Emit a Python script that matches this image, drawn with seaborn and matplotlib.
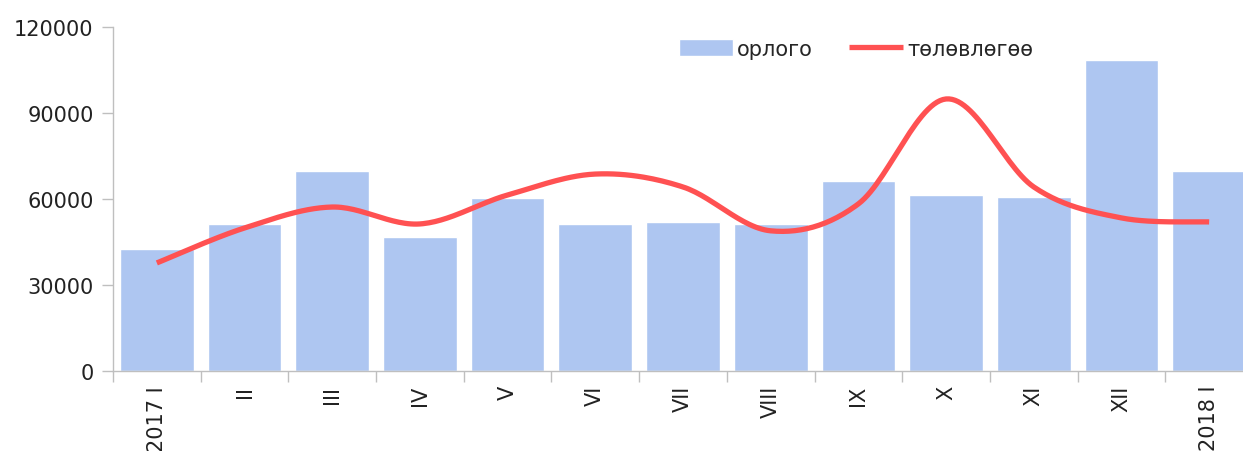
import numpy as np
import pandas as pd
import matplotlib
matplotlib.use("Agg")
import matplotlib.pyplot as plt
import seaborn as sns

months = ["2017 I", "II", "III", "IV", "V", "VI", "VII", "VIII", "IX", "X", "XI", "XII", "2018 I"]
orlogo = [42600, 51300, 69800, 46900, 60400, 51400, 52000, 51400, 66300, 61400, 60800, 108500, 69900]
tolovlogoo = [37700, 49900, 57200, 51300, 61400, 68700, 64200, 48900, 58300, 94900, 64200, 53400, 52000]


def smooth_curve(y, steps=30):
    # Excel-style smoothed line: Catmull-Rom segments through the points
    x = np.arange(len(y), dtype=float)
    y = np.asarray(y, dtype=float)
    px = np.concatenate([[x[0]], x, [x[-1]]])
    py = np.concatenate([[y[0]], y, [y[-1]]])
    xs, ys = [], []
    t = np.linspace(0, 1, steps)
    for i in range(1, len(px) - 2):
        p0, p1, p2, p3 = (np.array([px[j], py[j]]) for j in (i - 1, i, i + 1, i + 2))
        c1 = p1 + (p2 - p0) / 6
        c2 = p2 - (p3 - p1) / 6
        pts = ((1 - t) ** 3)[:, None] * p1 + (3 * (1 - t) ** 2 * t)[:, None] * c1 \
            + (3 * (1 - t) * t ** 2)[:, None] * c2 + (t ** 3)[:, None] * p2
        xs.extend(pts[:, 0])
        ys.extend(pts[:, 1])
    return np.array(xs), np.array(ys)


df = pd.DataFrame({"month": months, "orlogo": orlogo})

sns.set_style("white")
plt.rcParams["font.family"] = ["DejaVu Sans"]

fig = plt.figure(figsize=(12.43, 4.52), dpi=100)
ax = fig.add_axes([113 / 1243, 80 / 452, 1140 / 1243, 344 / 452])

sns.barplot(data=df, x="month", y="orlogo", color="#AEC6F1", saturation=1,
            width=0.84, ax=ax, label="орлого")
lx, ly = smooth_curve(tolovlogoo)
ax.plot(lx, ly, color="#FF5152", lw=3.8, solid_capstyle="butt", label="төлөвлөгөө")

ax.set_xlim(-0.5, len(months) - 0.5)
ax.set_ylim(0, 120000)
ax.set_yticks(np.arange(0, 120001, 30000))
ax.set_xlabel("")
ax.set_ylabel("")

ax.set_xticks(np.arange(len(months)))
ax.set_xticklabels(months, rotation=90, fontsize=15, color="#222222")
ax.set_xticks(np.arange(-0.5, len(months), 1), minor=True)
ax.tick_params(axis="x", which="major", bottom=False, length=0, pad=10)
ax.tick_params(axis="x", which="minor", bottom=True, length=8, color="#BFBFBF", width=1)
ax.tick_params(axis="y", left=True, length=8, color="#BFBFBF", width=1, labelsize=15,
               labelcolor="#222222", pad=6)

for s in ["top", "right"]:
    ax.spines[s].set_visible(False)
for s in ["left", "bottom"]:
    ax.spines[s].set_color("#BFBFBF")
    ax.spines[s].set_linewidth(1)

handles, labels = ax.get_legend_handles_labels()
order = [labels.index("орлого"), labels.index("төлөвлөгөө")]
ax.legend([handles[i] for i in order], [labels[i] for i in order],
          loc="upper left", bbox_to_anchor=(0.48, 1.02), ncol=2, frameon=False,
          fontsize=15, handlelength=2.6, handleheight=0.9, handletextpad=0.2,
          columnspacing=1.7)

fig.savefig("out.png", dpi=100)
